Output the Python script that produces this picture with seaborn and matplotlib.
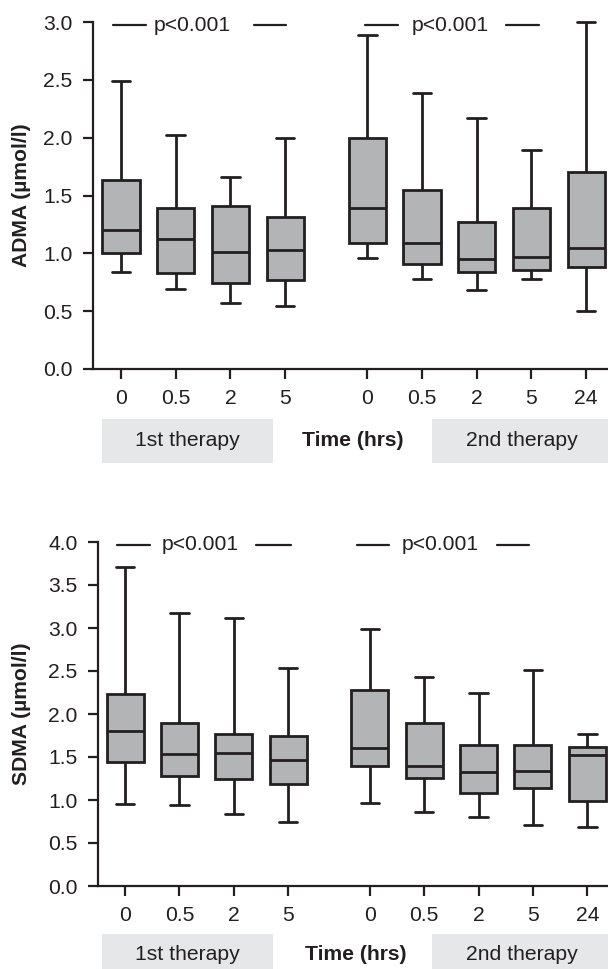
import numpy as np
import pandas as pd
import matplotlib
matplotlib.use("Agg")
import matplotlib.pyplot as plt
import seaborn as sns
from matplotlib.patches import Rectangle
from matplotlib.ticker import FormatStrFormatter

# ---------------- data ----------------
times_1st = ["0", "0.5", "2", "5"]
times_2nd = ["0", "0.5", "2", "5", "24"]
group_labels = ["1st therapy", "2nd therapy"]
x_title = "Time (hrs)"
p_text = "p<0.001"

adma_low = [0.835, 0.69, 0.57, 0.545, 0.96, 0.78, 0.685, 0.78, 0.50]
adma_q1 = [1.00, 0.83, 0.74, 0.77, 1.09, 0.91, 0.835, 0.86, 0.88]
adma_med = [1.20, 1.12, 1.01, 1.03, 1.39, 1.09, 0.95, 0.97, 1.05]
adma_q3 = [1.63, 1.39, 1.41, 1.31, 2.00, 1.55, 1.27, 1.39, 1.70]
adma_high = [2.49, 2.02, 1.66, 2.00, 2.89, 2.39, 2.17, 1.89, 3.00]

sdma_low = [0.95, 0.94, 0.84, 0.75, 0.97, 0.86, 0.80, 0.71, 0.69]
sdma_q1 = [1.44, 1.28, 1.25, 1.19, 1.39, 1.26, 1.08, 1.14, 0.99]
sdma_med = [1.80, 1.53, 1.55, 1.47, 1.60, 1.39, 1.32, 1.34, 1.52]
sdma_q3 = [2.23, 1.90, 1.77, 1.75, 2.28, 1.90, 1.64, 1.64, 1.62]
sdma_high = [3.71, 3.18, 3.12, 2.53, 2.99, 2.43, 2.25, 2.51, 1.77]

# ---------------- style ----------------
sns.set_theme(style="ticks")
plt.rcParams["font.family"] = ["Liberation Sans", "DejaVu Sans"]
INK = "#231f20"
BOX = "#b3b4b6"
BAND = "#e6e7e8"
FS = 15.2
W, H = 608, 969

GAP = 1.5
positions = list(range(len(times_1st))) + [len(times_1st) - 1 + GAP + i for i in range(len(times_2nd))]
tick_labels = times_1st + times_2nd

fig = plt.figure(figsize=(W / 100, H / 100), dpi=100)


def px_rect(x0, y0, x1, y1):
    return [x0 / W, 1 - y1 / H, (x1 - x0) / W, (y1 - y0) / H]


def panel(ax, low, q1, med, q3, high, ylabel, ymax, xlim, ylabel_x, p_marks, p_y):
    rows = []
    for p, vals in zip(positions, zip(low, q1, med, q3, high)):
        for v in vals:
            rows.append({"pos": p, "value": v})
    df = pd.DataFrame(rows)
    sns.boxplot(data=df, x="pos", y="value", native_scale=True, whis=(0, 100),
                width=0.68, color=BOX, saturation=1, linecolor=INK, linewidth=2,
                ax=ax)
    for a in ax.lines + ax.patches:
        a.set_clip_on(False)
    ax.set_xlim(*xlim)
    ax.set_ylim(0, ymax)
    ax.set_yticks(np.arange(0, ymax + 0.01, 0.5))
    ax.yaxis.set_major_formatter(FormatStrFormatter("%.1f"))
    ax.set_xticks(positions)
    ax.set_xticklabels(tick_labels)
    ax.set_xlabel("")
    ax.set_ylabel(ylabel, fontsize=FS, fontweight="bold", color=INK, va="center")
    ax.yaxis.set_label_coords(ylabel_x, 0.5)
    for s in ["top", "right"]:
        ax.spines[s].set_visible(False)
    for s in ["left", "bottom"]:
        ax.spines[s].set_linewidth(1.6)
        ax.spines[s].set_color(INK)
    ax.tick_params(axis="both", length=7.2, width=1.6, color=INK,
                   labelsize=FS, labelcolor=INK)
    ax.tick_params(axis="x", pad=7.5)
    ax.tick_params(axis="y", pad=7.5)
    # p-value annotations
    for (l0, l1, tx, r0, r1) in p_marks:
        ax.plot([l0, l1], [p_y, p_y], color=INK, lw=1.6, clip_on=False)
        ax.plot([r0, r1], [p_y, p_y], color=INK, lw=1.6, clip_on=False)
        ax.text(tx, p_y, p_text, ha="center", va="center", fontsize=FS, color=INK,
                clip_on=False)


# top panel
ax1 = fig.add_axes(px_rect(93, 22, 608, 369))
panel(ax1, adma_low, adma_q1, adma_med, adma_q3, adma_high,
      "ADMA (µmol/l)", 3.0, (-0.512, 8.90), -0.1385,
      [(-0.146, 0.457, 1.31, 2.43, 3.02), (4.46, 5.06, 6.02, 7.04, 7.64)], 2.97)

# bottom panel
ax2 = fig.add_axes(px_rect(98, 542, 608, 886))
panel(ax2, sdma_low, sdma_q1, sdma_med, sdma_q3, sdma_high,
      "SDMA (µmol/l)", 4.0, (-0.497, 8.88), -0.1496,
      [(-0.147, 0.46, 1.38, 2.41, 3.05), (4.27, 4.86, 5.80, 6.84, 7.43)], 3.97)

# group bands under the axes
def bands(y0, y1, yc, time_x):
    for (x0, x1), lab in zip([(102, 273), (432, 612)], group_labels):
        fig.add_artist(Rectangle((x0 / W, 1 - y1 / H), (x1 - x0) / W, (y1 - y0) / H,
                                 transform=fig.transFigure, color=BAND, lw=0, zorder=0))
        fig.text((x0 + x1) / 2 / W, 1 - yc / H, lab, ha="center", va="center",
                 fontsize=FS, color=INK)
    fig.text(time_x / W, 1 - yc / H, x_title, ha="center", va="center",
             fontsize=FS, fontweight="bold", color=INK)


bands(419, 463, 441, 353)
bands(934, 976, 955, 356)

fig.savefig("out.png", dpi=100)
